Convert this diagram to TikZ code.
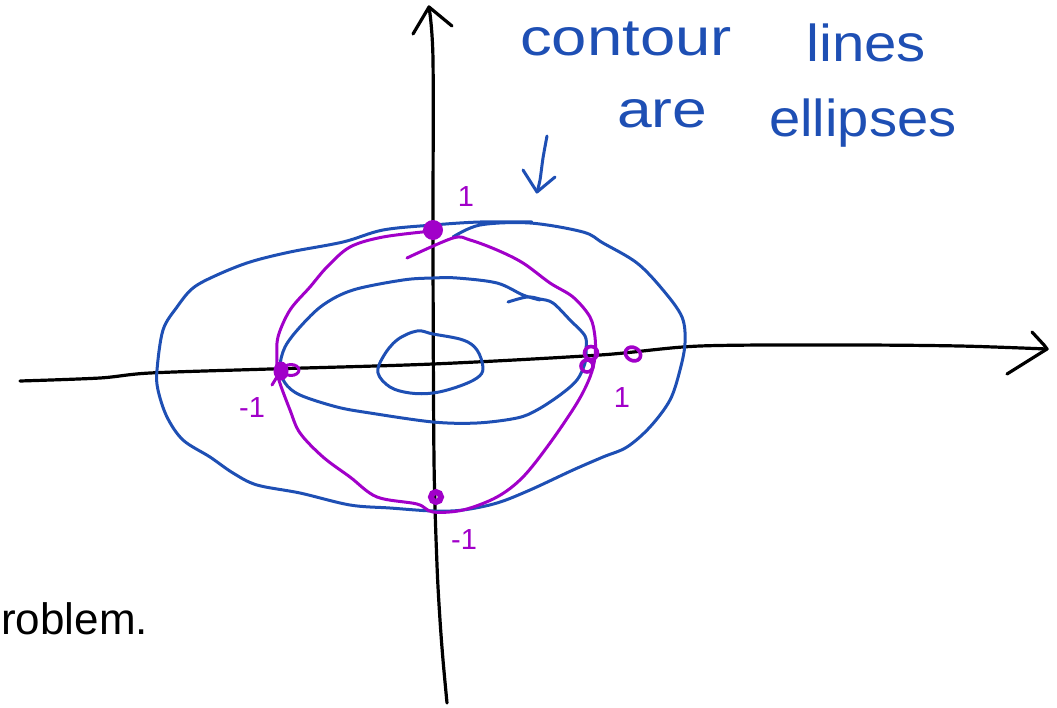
\documentclass[tikz,border=0pt]{standalone}
\usepackage{fontspec}
\setmainfont{Liberation Sans}
\definecolor{penblue}{HTML}{1E4FB4}
\definecolor{penpurple}{HTML}{A100C9}
\tikzset{
  axisline/.style={draw=black, line width=3.2pt, line cap=round, line join=round},
  blueline/.style={draw=penblue, line width=3pt, line cap=round, line join=round},
  purpleline/.style={draw=penpurple, line width=3pt, line cap=round, line join=round},
  bluetext/.style={anchor=base west, inner sep=0pt, text=penblue, font=\fontsize{52}{60}\selectfont},
  purplelabel/.style={inner sep=0pt, text=penpurple, font=\fontsize{29}{34}\selectfont},
}
\begin{document}
\begin{tikzpicture}[x=1pt, y=-1pt]
\useasboundingbox (0,0) rectangle (1057,707);

% ---- axes ----
\coordinate (ytop) at (429,7);
\coordinate (xtip) at (1047,349);
\draw[axisline] plot[smooth, tension=0.5] coordinates {(447,703) (443,660) (440,620) (437,565) (434,460) (433,250) (433,60) (ytop)};
\draw[axisline] (413,34) -- (ytop) -- (452,26);
\draw[axisline] plot[smooth, tension=0.5] coordinates {(20,381) (100,378) (150,373) (270,369) (433,364) (600,355) (700,346) (850,345) (960,346) (xtip)};
\draw[axisline] (1032,332) -- (1044,345) -- (xtip) -- (1007,374);

% ---- blue contour lines ----
\draw[blueline] plot[smooth, tension=0.55] coordinates {
 (453,237) (480,225) (530,223) (583,232) (603,243) (637,263) (663,290) (682,317)
 (685,343) (680,370) (670,400) (650,427) (627,447) (603,457) (573,470) (530,490)
 (497,503) (463,510) (433,511) (390,508) (350,505) (300,493) (257,485) (233,473) (210,457)
 (183,440) (167,417) (158,390) (157,370) (163,330) (177,307) (193,288) (217,275)
 (250,262) (290,252) (343,242) (383,230) (433,225) (480,222) (532,222)};
\draw[blueline] plot[smooth, tension=0.55] coordinates {
 (508,302) (527,297) (540,299) (553,303) (570,320) (585,336) (586,350) (585,363)
 (577,380) (560,395) (537,410) (517,418) (477,423) (433,422) (370,413) (337,407)
 (300,395) (285,383) (280,367) (285,347) (300,327) (323,305) (353,290) (403,280)
 (433,278) (457,278) (497,283) (523,295) (540,300)};
\draw[blueline] plot[smooth cycle, tension=0.6] coordinates {
 (433,334) (463,340) (477,350) (483,368) (477,378) (457,387) (433,393) (410,393)
 (390,387) (378,373) (383,357) (397,340) (417,331)};

% ---- purple circle ----
\draw[purpleline] plot[smooth, tension=0.55] coordinates {
 (432,231) (383,237) (350,247) (327,267) (310,287) (290,310) (278,337) (277,360)
 (278,377) (290,410) (300,433) (323,457) (350,477) (377,497) (417,504) (433,512)
 (463,510) (497,497) (523,477) (550,443) (577,403) (590,377) (595,357) (595,337)
 (590,317) (573,297) (550,283) (523,263) (497,250) (470,240) (453,238) (407,258)};

% ---- purple points ----
\fill[penpurple] (433,230) circle (10);
\fill[penpurple] (281,371) ellipse (7.5 and 9.5);
\draw[purpleline] (272,385) -- (280,372);
\draw[purpleline] (291,370) ellipse (8 and 5.5);
\draw[purpleline, line width=3.6pt] (591,353) circle (6.5);
\draw[purpleline, line width=3.6pt] (587,366) circle (6);
\draw[purpleline, line width=3.6pt, rotate around={-30:(633,354)}] (633,354) ellipse (8 and 6.5);
\draw[penpurple, line width=6pt] (436,497) circle (5);

% ---- purple labels ----
\node[purplelabel] (ltop) at (466,197) {1};
\node[purplelabel] (lleft) at (252,408) {-1};
\node[purplelabel] (lright) at (622,398) {1};
\node[purplelabel] (lbottom) at (464,540) {-1};

% ---- annotation ----
\node[bluetext] (w1) at (520,55) {\scalebox{1.22}[1]{contour}};
\node[bluetext] (w2) at (806,61) {\scalebox{1.12}[1]{lines}};
\node[bluetext] (w3) at (617,127) {\scalebox{1.2}[1]{are}};
\node[bluetext] (w4) at (769,136) {\scalebox{1.08}[1]{ellipses}};
\coordinate (arrtail) at (547,136);
\coordinate (arrtip) at (537,192);
\draw[blueline] plot[smooth, tension=0.5] coordinates {(arrtail) (543,158) (540,180) (arrtip)};
\draw[blueline] (523,170) -- (arrtip) -- (555,177);

% ---- text at the left edge ----
\node[anchor=base west, inner sep=0pt, font=\fontsize{44}{52}\selectfont] (prob) at (1,634) {roblem.};
\end{tikzpicture}
\end{document}
